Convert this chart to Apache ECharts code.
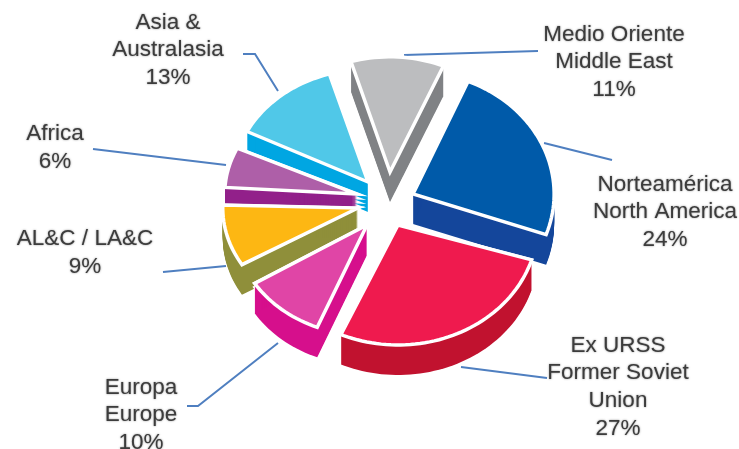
<!DOCTYPE html>
<html>
<head>
    <meta charset="UTF-8">
    <title>Pie</title>
    <style>
        html, body {
            margin: 0;
            height: 100%;
            background-color: #FFF;
        }
    </style>
</head>
<body>
<div id="main" style="width:739px;height:449px"></div>

<script src="https://cdn.jsdelivr.net/npm/echarts@6/dist/echarts.min.js"></script>
<script type="text/javascript">
    // clockwise from North America
    var labels = [
        'Norteamérica\nNorth America',
        'Ex URSS\nFormer Soviet\nUnion',
        'Europa\nEurope',
        'AL&C / LA&C',
        'Africa',
        'Asia &\nAustralasia',
        'Medio Oriente\nMiddle East'
    ];
    var shares = [24, 27, 10, 9, 6, 13, 11];
    var faceColors = ['#005aa9', '#ef1a4e', '#e045a6', '#fdb713', '#ae5fa8', '#50c8e8', '#bcbdbf'];
    var sideColors = ['#14469b', '#c1122f', '#d60f8c', '#8f8f3a', '#92208a', '#00a6e2', '#808285'];

    // layout of the exploded slices, same order as labels
    var apex = [[413, 194], [398, 225], [367, 225], [358, 208], [357, 194], [368, 182], [390, 172]];
    var scaleX = [0.96, 0.95, 0.9, 0.92, 0.9, 0.92, 0.93];
    var scaleY = [1.02, 1, 0.92, 0.92, 0.9, 0.94, 0.96];
    var rotate = [1.5, -1, -3, -2, 0, 1.5, 1.5];
    var labelPos = [[665, 212], [618, 387], [141, 415], [85, 253], [55, 148], [168, 50], [614, 62]];
    var leaders = [
        [[544, 143], [612, 160]],
        [[461, 367], [547, 378]],
        [[187, 406], [198, 406], [278, 343]],
        [[163, 272], [226, 266]],
        [[93, 149], [226, 165]],
        [[243, 54], [255, 54], [278, 91]],
        [[404, 55], [538, 51]]
    ];
    var drawOrder = [6, 5, 4, 0, 3, 2, 1];

    var rx = 147, ry = 120, depth = 30, startAngle = 21.5;

    function wedge(i) {
        var total = shares.reduce(function (a, b) { return a + b; }, 0);
        var from = startAngle;
        for (var k = 0; k < i; k++) {
            from += shares[k] / total * 360;
        }
        var to = from + shares[i] / total * 360;
        from += rotate[i];
        to += rotate[i];
        var pts = [apex[i].slice()];
        for (var a = from; ; a += 2) {
            var t = Math.min(a, to) * Math.PI / 180;
            pts.push([apex[i][0] + rx * scaleX[i] * Math.sin(t), apex[i][1] - ry * scaleY[i] * Math.cos(t)]);
            if (a >= to) break;
        }
        return pts;
    }

    function moved(pts, dy) {
        return pts.map(function (p) { return [p[0], p[1] + dy]; });
    }

    function renderSlice(params, api) {
        var i = api.value(0);
        var pts = wedge(i);
        var children = [];
        // white edge round the extruded part, then the part, then the top face
        for (var d = 0; d <= depth; d += 4) {
            children.push({
                type: 'polygon',
                shape: {points: moved(pts, d)},
                style: {fill: '#FFF', stroke: '#FFF', lineWidth: 3}
            });
        }
        for (var d2 = 1; d2 <= depth; d2++) {
            children.push({
                type: 'polygon',
                shape: {points: moved(pts, d2)},
                style: {fill: sideColors[i]}
            });
        }
        children.push({
            type: 'polygon',
            shape: {points: pts},
            style: {fill: faceColors[i], stroke: '#FFF', lineWidth: 3.5}
        });
        return {type: 'group', children: children};
    }

    function renderLabel(params, api) {
        var i = api.value(0);
        return {
            type: 'group',
            children: [{
                type: 'polyline',
                shape: {points: leaders[i]},
                style: {fill: null, stroke: '#4f7fc0', lineWidth: 2}
            }, {
                type: 'text',
                x: labelPos[i][0],
                y: labelPos[i][1],
                style: {
                    text: labels[i] + '\n' + shares[i] + '%',
                    fill: '#3c3c3c',
                    font: '22.5px "Liberation Sans"',
                    lineHeight: 27.7,
                    align: 'center',
                    verticalAlign: 'middle',
                    textShadowColor: 'rgba(60,60,60,0.6)',
                    textShadowBlur: 2
                }
            }]
        };
    }

    var mCharts = echarts.init(document.getElementById('main'));
    mCharts.setOption({
        animation: false,
        backgroundColor: '#FFF',
        series: [{
            type: 'custom',
            coordinateSystem: 'none',
            silent: true,
            renderItem: renderLabel,
            data: labels.map(function (n, i) { return [i]; })
        }, {
            type: 'custom',
            coordinateSystem: 'none',
            silent: true,
            renderItem: renderSlice,
            data: drawOrder.map(function (i) { return [i]; })
        }]
    });
</script>
</body>
</html>
